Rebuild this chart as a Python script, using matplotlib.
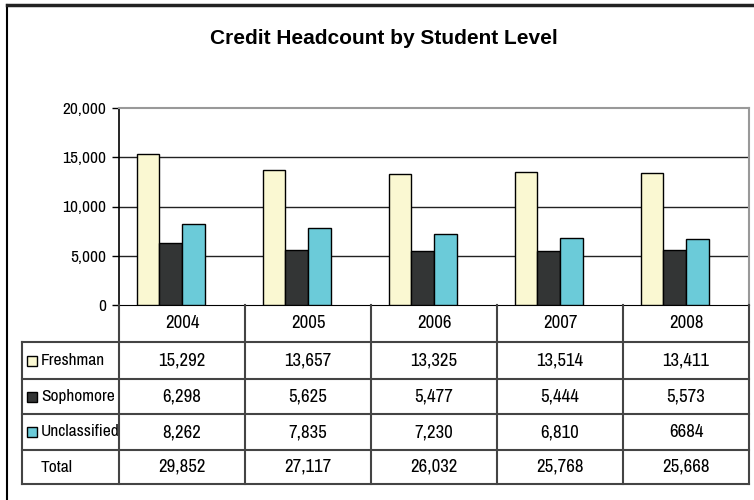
import matplotlib.pyplot as plt
from matplotlib.patches import Rectangle
from matplotlib import font_manager

# credit headcount data
years = ['2004', '2005', '2006', '2007', '2008']
freshman = [15292, 13657, 13325, 13514, 13411]
sophomore = [6298, 5625, 5477, 5444, 5573]
unclassified = [8262, 7835, 7230, 6810, 6684]
total_lbl = ['29,852', '27,117', '26,032', '25,768', '25,668']
fresh_lbl = ['15,292', '13,657', '13,325', '13,514', '13,411']
soph_lbl = ['6,298', '5,625', '5,477', '5,444', '5,573']
uncl_lbl = ['8,262', '7,835', '7,230', '6,810', '6684']

series = ['Freshman', 'Sophomore', 'Unclassified']
colors = ['#FAF8D2', '#333535', '#6BCBD9']

# pick a narrow sans if one is around
names = {f.name for f in font_manager.fontManager.ttflist}
narrow = 'Liberation Sans'
for cand in ['Arial Narrow', 'Liberation Sans Narrow', 'Archivo Narrow', 'PT Sans Narrow',
             'Roboto Condensed', 'Pragati Narrow', 'Encode Sans Condensed', 'Open Sans Condensed',
             'DejaVu Sans Condensed']:
    if cand in names:
        narrow = cand
        break
plt.rcParams['font.family'] = [narrow, 'DejaVu Sans']

W, H = 754, 500
fig = plt.figure(figsize=(W / 100, H / 100), dpi=100)

# pixel layout
x0, x1 = 119, 749
y_top, y_zero = 108, 305
ax = fig.add_axes([x0 / W, 1 - y_zero / H, (x1 - x0) / W, (y_zero - y_top) / H])

n = len(years)
bw = 0.18
data = [freshman, sophomore, unclassified]
for i, (vals, c) in enumerate(zip(data, colors)):
    xs = [k + (i - 1.5) * bw for k in range(n)]
    ax.bar(xs, vals, width=bw, color=c, edgecolor='black', linewidth=1.0, zorder=3)

ax.set_xlim(-0.5, n - 0.5)
ax.set_ylim(0, 20000)
ax.set_yticks([0, 5000, 10000, 15000, 20000])
ax.set_yticklabels(['0', '5,000', '10,000', '15,000', '20,000'], fontsize=12.5)
ax.tick_params(axis='y', length=5, width=1, color='black', pad=4)
ax.set_xticks([])
for y in [5000, 10000, 15000]:
    ax.axhline(y, color='#222222', linewidth=1.0, zorder=1)
ax.spines['left'].set_color('black')
ax.spines['left'].set_linewidth(1.2)
for s in ['top', 'right']:
    ax.spines[s].set_color('#999999')
    ax.spines[s].set_linewidth(1.5)
ax.spines['bottom'].set_color('black')

# overlay axes in pixel coordinates for border, title and table
ov = fig.add_axes([0, 0, 1, 1], zorder=-1)
ov.set_xlim(0, W)
ov.set_ylim(H, 0)
ov.axis('off')
ov.plot([7, 7], [5, H], color='black', linewidth=1.5)
ov.plot([7, W], [5, 5], color='#222222', linewidth=2.5)

fig.text(384 / W, 1 - 39 / H, 'Credit Headcount by Student Level', ha='center', va='center',
         fontsize=15, fontweight='bold', family=['Liberation Sans', 'DejaVu Sans'])

tab = fig.add_axes([0, 0, 1, 1], zorder=2)
tab.set_xlim(0, W)
tab.set_ylim(H, 0)
tab.axis('off')

lc = '#444444'
cw = (x1 - x0) / n
row_edges = [305, 342, 379, 414, 450, 484]
xl = 22
for y in row_edges[1:]:
    tab.plot([xl, x1], [y, y], color=lc, lw=1.5)
tab.plot([xl, xl], [row_edges[1], row_edges[-1]], color=lc, lw=1.5)
for k in range(n + 1):
    tab.plot([x0 + k * cw] * 2, [row_edges[0], row_edges[-1]], color=lc, lw=1.5)

rows = [fresh_lbl, soph_lbl, uncl_lbl, total_lbl]
labels = series + ['Total']
fs = 13.5
for k, yr in enumerate(years):
    tab.text(x0 + (k + 0.5) * cw, (row_edges[0] + row_edges[1]) / 2, yr,
             ha='center', va='center', fontsize=fs)
for r, (lab, vals) in enumerate(zip(labels, rows)):
    yc = (row_edges[r + 1] + row_edges[r + 2]) / 2
    if r < 3:
        tab.add_patch(Rectangle((27, yc - 5), 10, 10, facecolor=colors[r],
                                edgecolor='black', lw=1.0))
    tab.text(41, yc, lab, ha='left', va='center', fontsize=12.5)
    for k, v in enumerate(vals):
        tab.text(x0 + (k + 0.5) * cw, yc, v, ha='center', va='center', fontsize=fs)

fig.savefig('out.png', dpi=100, facecolor='white')
